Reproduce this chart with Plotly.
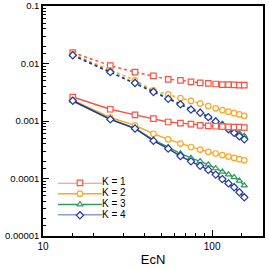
import plotly.graph_objects as go

ecn = [15, 25, 35, 45, 55, 65, 75, 85, 95, 105, 115, 125, 135, 145, 155]
k_labels = ["K = 1", "K = 2", "K = 3", "K = 4"]

# dotted series
k1_dot = [0.0155, 0.0092, 0.0071, 0.0061, 0.0053, 0.0051, 0.0048, 0.0046, 0.0045, 0.0044, 0.0043, 0.0043, 0.00425, 0.0042, 0.0042]
k2_dot = [0.0145, 0.0076, 0.0051, 0.0034, 0.0029, 0.0025, 0.00223, 0.00201, 0.00182, 0.00166, 0.00155, 0.00145, 0.00137, 0.0013, 0.00123]
k3_dot = [0.0140, 0.0072, 0.0047, 0.0033, 0.0025, 0.0020, 0.00163, 0.00143, 0.00119, 0.00102, 0.00089, 0.00077, 0.00069, 0.00061, 0.00055]
k4_dot = [0.0139, 0.0071, 0.00458, 0.00319, 0.00243, 0.00195, 0.00158, 0.00139, 0.00117, 0.00098, 0.00084, 0.00072, 0.00062, 0.00054, 0.00048]

# solid series
k1_sol = [0.00261, 0.0016, 0.00128, 0.0011, 0.00096, 0.00092, 0.00088, 0.00084, 0.00082, 0.00081, 0.0008, 0.00079, 0.00078, 0.00078, 0.00077]
k2_sol = [0.0023, 0.00115, 0.00084, 0.0006, 0.00048, 0.000405, 0.000353, 0.000318, 0.000291, 0.000272, 0.000256, 0.000241, 0.000228, 0.000217, 0.000207]
k3_sol = [0.00222, 0.00108, 0.00075, 0.00047, 0.00035, 0.000271, 0.000228, 0.000199, 0.000175, 0.00015, 0.000131, 0.000117, 0.000105, 0.0000912, 0.0000753]
k4_sol = [0.00225, 0.00107, 0.00074, 0.00045, 0.00033, 0.000246, 0.000199, 0.000166, 0.000141, 0.000117, 0.0000977, 0.0000822, 0.0000703, 0.0000576, 0.0000471]

x_major = [10, 100]
x_major_text = ["10", "100"]
x_minor = [15, 20, 30, 40, 50, 60, 70, 80, 90, 150]
y_major = [1e-5, 1e-4, 1e-3, 1e-2, 1e-1]
y_major_text = ["0.00001", "0.0001", "0.001", "0.01", "0.1"]
y_minor = [m * 10.0 ** e for e in range(-5, -1) for m in (1.5, 2, 3, 4, 5, 6, 7, 8, 9)]

colors = ["#FF5040", "#FFA526", "#2E9C5E", "#22389E"]
symbols = ["square", "circle", "triangle-up", "diamond"]
dots = [k1_dot, k2_dot, k3_dot, k4_dot]
sols = [k1_sol, k2_sol, k3_sol, k4_sol]

fig = go.Figure()
for ys, c, s in zip(dots, colors, symbols):
    fig.add_trace(go.Scatter(
        x=ecn, y=ys, mode="lines+markers", showlegend=False,
        line=dict(color=c, width=1.5, dash="dot"),
        marker=dict(symbol=s, size=5.5, color="white", line=dict(color=c, width=1.2)),
    ))
for ys, c, s in zip(sols, colors, symbols):
    fig.add_trace(go.Scatter(
        x=ecn, y=ys, mode="lines+markers", showlegend=False,
        line=dict(color=c, width=1.4),
        marker=dict(symbol=s, size=5.5, color="white", line=dict(color=c, width=1.2)),
    ))

# hand-made legend on an auxiliary axis
for i, (lab, c, s) in enumerate(zip(k_labels, colors, symbols)):
    row = 3 - i
    fig.add_trace(go.Scatter(
        x=[0, 1], y=[row, row], mode="lines", xaxis="x3", yaxis="y3",
        showlegend=False, line=dict(color=c, width=1.4), cliponaxis=False,
        hoverinfo="skip",
    ))
    fig.add_trace(go.Scatter(
        x=[0.5], y=[row], mode="markers", xaxis="x3", yaxis="y3",
        showlegend=False, cliponaxis=False, hoverinfo="skip",
        marker=dict(symbol=s, size=5.5, color="white", line=dict(color=c, width=1.2)),
    ))
    fig.add_trace(go.Scatter(
        x=[1], y=[row], mode="text", text=[lab], textposition="middle right",
        xaxis="x3", yaxis="y3", showlegend=False, cliponaxis=False,
        textfont=dict(size=10, color="black", family="Liberation Sans"),
        hoverinfo="skip",
    ))

fig.update_layout(
    width=269, height=269,
    margin=dict(l=43, r=6, t=6, b=33, autoexpand=False),
    paper_bgcolor="white", plot_bgcolor="white",
    font=dict(family="Liberation Sans", color="black", size=9.5),
    xaxis=dict(
        type="log", range=[1, 2.30103], automargin=False,
        tickvals=x_major, ticktext=x_major_text,
        ticks="inside", ticklen=6, tickwidth=1, tickcolor="black",
        minor=dict(tickvals=x_minor, ticks="inside", ticklen=3, tickcolor="black", showgrid=False),
        showgrid=False, zeroline=False,
        showline=True, linecolor="black", linewidth=1.5, mirror=True,
        title=dict(text="EcN", font=dict(size=13), standoff=4),
        tickfont=dict(size=10),
    ),
    yaxis=dict(
        type="log", range=[-5, -1], automargin=False,
        tickvals=y_major, ticktext=y_major_text,
        ticks="inside", ticklen=6, tickwidth=1, tickcolor="black",
        minor=dict(tickvals=y_minor, ticks="inside", ticklen=3, tickcolor="black", showgrid=False),
        showgrid=False, zeroline=False,
        showline=True, linecolor="black", linewidth=1.5, mirror=True,
        tickfont=dict(size=9.5),
    ),
    xaxis3=dict(domain=[0.068, 0.268], range=[0, 1], visible=False, anchor="y3"),
    yaxis3=dict(domain=[0.090, 0.231], range=[0, 3], visible=False, anchor="x3"),
)

fig.write_html("out.html", config={"displayModeBar": False},
               post_script="document.body.style.margin='0px';")
